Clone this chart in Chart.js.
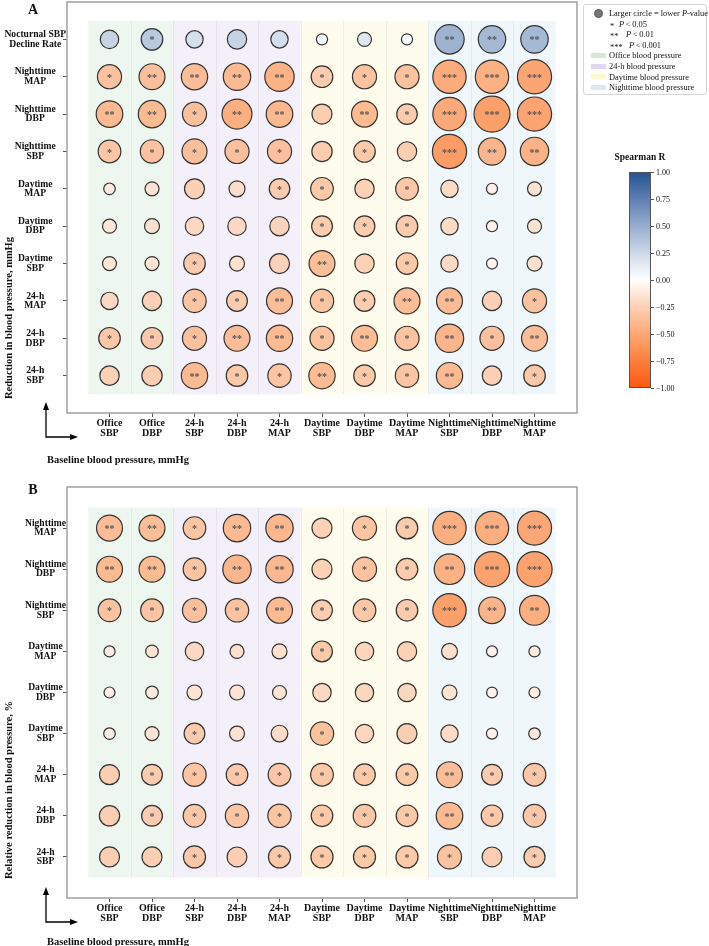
<!DOCTYPE html>
<html>
<head>
<meta charset="utf-8">
<script src="https://cdn.jsdelivr.net/npm/chart.js@4.4.1/dist/chart.umd.min.js"></script>
<style>
  body { margin: 0; background: #fff; }
  #page { position: relative; width: 709px; height: 946px; overflow: hidden; font-family: 'Liberation Serif', 'Times New Roman', serif; color: #111; }
  canvas { position: absolute; left: 0; }
  .t { position: absolute; white-space: nowrap; transform: translate(-50%, -50%); }
  .l { position: absolute; white-space: nowrap; transform: translateY(-50%); }
  .b { font-weight: bold; }
  .ytitle { position: absolute; white-space: nowrap; font-weight: bold; font-size: 10.5px; transform: translate(-50%, -50%) rotate(-90deg); }
  #legend { position: absolute; left: 583px; top: 4px; width: 124px; height: 91px; border: 1px solid #d4d4d4; border-radius: 3px; box-sizing: border-box; }
  .leg { font-size: 8.4px; }
  #cbar { position: absolute; left: 629px; top: 172px; width: 22px; height: 216px; border: 0.8px solid #555; box-sizing: border-box; }
  .cbt { font-size: 8px; }
</style>
</head>
<body>
<div id="page">
  <canvas id="chartA" width="600" height="475" style="top:0px"></canvas>
  <canvas id="chartB" width="600" height="471" style="top:475px"></canvas>
</div>
<script>
// categories
const colLabels = [['Office', 'SBP'], ['Office', 'DBP'], ['24-h', 'SBP'], ['24-h', 'DBP'], ['24-h', 'MAP'],
  ['Daytime', 'SBP'], ['Daytime', 'DBP'], ['Daytime', 'MAP'], ['Nighttime', 'SBP'], ['Nighttime', 'DBP'], ['Nighttime', 'MAP']];
const rowLabelsA = [['Nocturnal SBP', 'Decline Rate'], ['Nighttime', 'MAP'], ['Nighttime', 'DBP'], ['Nighttime', 'SBP'],
  ['Daytime', 'MAP'], ['Daytime', 'DBP'], ['Daytime', 'SBP'], ['24-h', 'MAP'], ['24-h', 'DBP'], ['24-h', 'SBP']];
const rowLabelsB = [['Nighttime', 'MAP'], ['Nighttime', 'DBP'], ['Nighttime', 'SBP'],
  ['Daytime', 'MAP'], ['Daytime', 'DBP'], ['Daytime', 'SBP'], ['24-h', 'MAP'], ['24-h', 'DBP'], ['24-h', 'SBP']];
const groupNames = ['Office blood pressure', '24-h blood pressure', 'Daytime blood pressure', 'Nighttime blood pressure'];
const groupFirst = [0, 2, 5, 8];
const groupLast = [1, 4, 7, 10];

// panel A: Spearman R and P-values (rows top to bottom)
const rhoA = [
  [0.30, 0.36, 0.22, 0.30, 0.24, 0.06, 0.18, 0.05, 0.50, 0.47, 0.47],
  [-0.36, -0.38, -0.40, -0.42, -0.47, -0.30, -0.36, -0.37, -0.52, -0.48, -0.56],
  [-0.42, -0.42, -0.37, -0.50, -0.44, -0.29, -0.42, -0.31, -0.53, -0.60, -0.57],
  [-0.34, -0.36, -0.39, -0.37, -0.37, -0.30, -0.32, -0.29, -0.62, -0.45, -0.47],
  [-0.11, -0.16, -0.27, -0.19, -0.30, -0.32, -0.27, -0.33, -0.21, -0.09, -0.15],
  [-0.14, -0.17, -0.22, -0.22, -0.25, -0.30, -0.30, -0.31, -0.21, -0.08, -0.15],
  [-0.14, -0.15, -0.31, -0.17, -0.26, -0.40, -0.26, -0.32, -0.21, -0.07, -0.17],
  [-0.22, -0.26, -0.35, -0.30, -0.40, -0.35, -0.30, -0.40, -0.41, -0.27, -0.36],
  [-0.33, -0.33, -0.37, -0.40, -0.42, -0.36, -0.40, -0.36, -0.45, -0.37, -0.40],
  [-0.27, -0.29, -0.42, -0.32, -0.35, -0.42, -0.32, -0.35, -0.42, -0.27, -0.33]
];
const pA = [
  [0.094, 0.035, 0.13, 0.069, 0.13, 0.9, 0.37, 0.9, 0.0031, 0.0057, 0.0057],
  [0.016, 0.009, 0.008, 0.0057, 0.0031, 0.035, 0.016, 0.016, 0.0009, 0.0009, 0.0007],
  [0.0073, 0.0057, 0.016, 0.0026, 0.0073, 0.057, 0.009, 0.048, 0.0009, 0.0004, 0.0007],
  [0.025, 0.02, 0.012, 0.016, 0.016, 0.052, 0.035, 0.069, 0.0007, 0.0057, 0.0042],
  [0.78, 0.37, 0.057, 0.2, 0.048, 0.025, 0.069, 0.025, 0.13, 0.9, 0.37],
  [0.37, 0.27, 0.094, 0.094, 0.069, 0.045, 0.045, 0.035, 0.13, 0.9, 0.37],
  [0.37, 0.37, 0.035, 0.27, 0.057, 0.009, 0.069, 0.035, 0.13, 0.95, 0.27],
  [0.13, 0.069, 0.02, 0.045, 0.009, 0.02, 0.045, 0.009, 0.009, 0.069, 0.016],
  [0.035, 0.035, 0.016, 0.009, 0.008, 0.016, 0.009, 0.016, 0.0042, 0.016, 0.009],
  [0.069, 0.052, 0.008, 0.035, 0.02, 0.008, 0.035, 0.02, 0.008, 0.069, 0.035]
];

// panel B
const rhoB = [
  [-0.40, -0.40, -0.35, -0.42, -0.43, -0.27, -0.35, -0.31, -0.50, -0.50, -0.55],
  [-0.42, -0.42, -0.35, -0.45, -0.43, -0.27, -0.36, -0.31, -0.48, -0.58, -0.58],
  [-0.35, -0.35, -0.37, -0.36, -0.42, -0.30, -0.33, -0.31, -0.60, -0.45, -0.50],
  [-0.10, -0.15, -0.22, -0.18, -0.18, -0.32, -0.24, -0.26, -0.18, -0.08, -0.10],
  [-0.09, -0.12, -0.15, -0.16, -0.15, -0.22, -0.23, -0.23, -0.15, -0.07, -0.09],
  [-0.10, -0.15, -0.30, -0.17, -0.20, -0.37, -0.23, -0.28, -0.20, -0.08, -0.12],
  [-0.28, -0.30, -0.35, -0.32, -0.33, -0.33, -0.32, -0.32, -0.40, -0.30, -0.33],
  [-0.28, -0.30, -0.33, -0.35, -0.35, -0.32, -0.33, -0.32, -0.42, -0.32, -0.33],
  [-0.28, -0.28, -0.32, -0.28, -0.32, -0.32, -0.32, -0.32, -0.36, -0.28, -0.30]
];
const pB = [
  [0.009, 0.009, 0.025, 0.0057, 0.0057, 0.057, 0.016, 0.035, 0.0009, 0.0009, 0.0007],
  [0.009, 0.009, 0.025, 0.0042, 0.0057, 0.057, 0.016, 0.035, 0.0021, 0.0005, 0.0005],
  [0.025, 0.025, 0.016, 0.02, 0.009, 0.045, 0.025, 0.035, 0.0009, 0.0073, 0.0026],
  [0.9, 0.57, 0.094, 0.37, 0.27, 0.045, 0.094, 0.069, 0.2, 0.95, 0.9],
  [0.95, 0.57, 0.27, 0.27, 0.37, 0.094, 0.094, 0.094, 0.27, 0.99, 0.95],
  [0.78, 0.37, 0.045, 0.27, 0.16, 0.02, 0.094, 0.057, 0.13, 0.9, 0.78],
  [0.057, 0.045, 0.02, 0.035, 0.025, 0.025, 0.035, 0.035, 0.009, 0.045, 0.025],
  [0.052, 0.045, 0.025, 0.02, 0.02, 0.035, 0.025, 0.035, 0.0073, 0.035, 0.025],
  [0.057, 0.057, 0.03, 0.06, 0.03, 0.03, 0.03, 0.03, 0.016, 0.06, 0.042]
];

// colour bar ticks
const cbTicks = [1.00, 0.75, 0.50, 0.25, 0.00, -0.25, -0.50, -0.75, -1.00];

// styles
const groupColors = [[200, 230, 201], [214, 206, 236], [252, 246, 196], [205, 230, 240]];
const CMAP = [[-1, [255, 88, 12]], [-0.75, [253, 128, 62]], [-0.5, [252, 168, 118]], [-0.25, [252, 208, 182]],
  [0, [255, 255, 255]], [0.25, [206, 217, 233]], [0.5, [152, 174, 206]], [0.75, [96, 128, 178]], [1, [38, 84, 150]]];
const SERIF = "'Liberation Serif', 'Times New Roman', serif";

function cmap(v, a) {
  v = Math.max(-1, Math.min(1, v));
  for (let i = 0; i < CMAP.length - 1; i++) {
    const [v0, c0] = CMAP[i], [v1, c1] = CMAP[i + 1];
    if (v <= v1) {
      const t = (v - v0) / (v1 - v0);
      const c = c0.map((c, k) => Math.round(c + (c1[k] - c) * t));
      return `rgba(${c[0]},${c[1]},${c[2]},${a === undefined ? 1 : a})`;
    }
  }
}
const stars = p => p < 0.001 ? '***' : p < 0.01 ? '**' : p < 0.05 ? '*' : '';
const radius = p => Math.max(4, 5.4 + 3.7 * -Math.log10(p));

function decoPlugin(nRows) {
  return {
    id: 'deco',
    beforeDatasetsDraw(chart) {
      const { ctx, scales: { x, y } } = chart;
      const y0 = y.getPixelForValue(-0.5), y1 = y.getPixelForValue(nRows - 0.5);
      ctx.save();
      groupFirst.forEach((g0, g) => {
        const x0 = x.getPixelForValue(g0 - 0.5), x1 = x.getPixelForValue(groupLast[g] + 0.5);
        const c = groupColors[g];
        ctx.fillStyle = `rgba(${c[0]},${c[1]},${c[2]},0.3)`;
        ctx.fillRect(x0, y0, x1 - x0, y1 - y0);
      });
      ctx.strokeStyle = 'rgba(0,0,0,0.05)';
      ctx.lineWidth = 1;
      for (let i = 0; i < colLabels.length - 1; i++) {
        const xp = Math.round(x.getPixelForValue(i + 0.5)) + 0.5;
        ctx.beginPath(); ctx.moveTo(xp, y0); ctx.lineTo(xp, y1); ctx.stroke();
      }
      ctx.restore();
    },
    afterDatasetsDraw(chart) {
      const { ctx } = chart;
      const meta = chart.getDatasetMeta(0);
      ctx.save();
      ctx.fillStyle = '#555';
      ctx.font = `bold 10px ${SERIF}`;
      ctx.textAlign = 'center';
      ctx.textBaseline = 'middle';
      meta.data.forEach((el, i) => {
        const s = stars(chart.data.datasets[0].data[i].p);
        if (s) ctx.fillText(s, el.x, el.y + 1.5);
      });
      ctx.restore();
    },
    afterDraw(chart) {
      const { ctx, chartArea: a } = chart;
      ctx.save();
      ctx.strokeStyle = '#a0a0a0';
      ctx.lineWidth = 1.5;
      ctx.strokeRect(a.left, a.top, a.right - a.left, a.bottom - a.top);
      // L-shaped arrow
      const cx = a.left - 21, cy = a.bottom + 24;
      ctx.strokeStyle = '#000';
      ctx.fillStyle = '#000';
      ctx.lineWidth = 1.3;
      ctx.beginPath();
      ctx.moveTo(cx, a.bottom - 4); ctx.lineTo(cx, cy); ctx.lineTo(a.left + 5, cy);
      ctx.stroke();
      ctx.beginPath();
      ctx.moveTo(cx, a.bottom - 11); ctx.lineTo(cx - 3, a.bottom - 3); ctx.lineTo(cx + 3, a.bottom - 3); ctx.closePath(); ctx.fill();
      ctx.beginPath();
      ctx.moveTo(a.left + 11, cy); ctx.lineTo(a.left + 3, cy - 3); ctx.lineTo(a.left + 3, cy + 3); ctx.closePath(); ctx.fill();
      ctx.restore();
    }
  };
}

function makePanel(id, rowLabels, rho, p, padTop, areaBottom) {
  const canvas = document.getElementById(id);
  const points = [];
  rho.forEach((row, r) => row.forEach((v, c) => points.push({ x: c, y: r, r: radius(p[r][c]), rho: v, p: p[r][c] })));
  const nRows = rowLabels.length;
  const xAxisH = canvas.height - areaBottom;
  return new Chart(canvas.getContext('2d'), {
    type: 'bubble',
    data: {
      datasets: [{
        data: points,
        backgroundColor: c => cmap(c.raw.rho, 0.92),
        borderColor: '#333',
        borderWidth: 1.2
      }]
    },
    options: {
      responsive: false,
      animation: false,
      events: [],
      layout: { autoPadding: false, padding: { left: 0, top: padTop, right: canvas.width - 577, bottom: 0 } },
      plugins: { legend: { display: false }, tooltip: { enabled: false } },
      scales: {
        x: {
          type: 'linear', min: -1, max: 11,
          afterBuildTicks: ax => { ax.ticks = colLabels.map((_, i) => ({ value: i })); },
          afterFit: s => { s.height = xAxisH; s.paddingLeft = 0; s.paddingRight = 0; },
          ticks: {
            callback: v => colLabels[v], autoSkip: false, maxRotation: 0, padding: 1, color: '#111',
            font: { family: SERIF, size: 10, weight: 'bold', lineHeight: 1.0 }
          },
          grid: { drawOnChartArea: false, tickLength: 4, color: '#555' },
          border: { display: false }
        },
        y: {
          type: 'linear', reverse: true, min: -1, max: nRows,
          afterBuildTicks: ax => { ax.ticks = rowLabels.map((_, i) => ({ value: i })); },
          afterFit: s => { s.width = 67; s.paddingTop = 0; s.paddingBottom = 0; },
          ticks: {
            callback: v => rowLabels[v], crossAlign: 'center', padding: -3, color: '#111',
            font: { family: SERIF, size: 9.6, weight: 'bold', lineHeight: 1.0 }
          },
          grid: { drawOnChartArea: false, tickLength: 4, color: '#555' },
          border: { display: false }
        }
      }
    },
    plugins: [decoPlugin(nRows)]
  });
}

makePanel('chartA', rowLabelsA, rhoA, pA, 2, 413);
makePanel('chartB', rowLabelsB, rhoB, pB, 12, 423);

// page texts, legend and colour bar
const page = document.getElementById('page');
function addText(cls, txt, left, top, extra) {
  const d = document.createElement('div');
  d.className = cls;
  d.innerHTML = txt;
  d.style.left = left + 'px';
  d.style.top = top + 'px';
  if (extra) Object.assign(d.style, extra);
  page.appendChild(d);
  return d;
}
addText('t b', 'A', 33, 10, { fontSize: '14px' });
addText('t b', 'B', 33, 490, { fontSize: '14px' });
addText('ytitle', 'Reduction in blood pressure, mmHg', 8, 318);
addText('ytitle', 'Relative reduction in blood pressure, %', 8, 790);
addText('l b', 'Baseline blood pressure, mmHg', 47, 459, { fontSize: '10.5px' });
addText('l b', 'Baseline blood pressure, mmHg', 47, 941, { fontSize: '10.5px' });

const legend = document.createElement('div');
legend.id = 'legend';
page.appendChild(legend);
const legY = i => 13 + i * 10.6;
addText('', '', 594, legY(0) - 4.5, { position: 'absolute', width: '9px', height: '9px', borderRadius: '50%', background: '#777', border: '0.8px solid #555', boxSizing: 'border-box' });
addText('l leg', 'Larger circle = lower <i>P</i>-value', 609, legY(0));
[['*', 619, '0.05'], ['**', 626, '0.01'], ['***', 629, '0.001']].forEach(([s, px, v], i) => {
  addText('l leg', s, 610, legY(i + 1) + 2);
  addText('l leg', `<i>P</i>&thinsp;&lt;&thinsp;${v}`, px, legY(i + 1));
});
groupNames.forEach((g, i) => {
  const c = groupColors[i];
  addText('', '', 591, legY(i + 4) - 2.5, { position: 'absolute', width: '15px', height: '5px', background: `rgba(${c[0]},${c[1]},${c[2]},0.8)` });
  addText('l leg', g, 609, legY(i + 4));
});

addText('t b', 'Spearman R', 640, 157, { fontSize: '9.5px' });
const bar = document.createElement('div');
bar.id = 'cbar';
bar.style.background = 'linear-gradient(to bottom, ' + CMAP.slice().reverse().map(([v]) => cmap(v) + ' ' + ((1 - v) / 2 * 100) + '%').join(', ') + ')';
page.appendChild(bar);
cbTicks.forEach(v => {
  const yy = 172 + (1 - v) / 2 * 216;
  addText('', '', 651, yy - 0.4, { position: 'absolute', width: '3px', height: '0.8px', background: '#555' });
  addText('l cbt', v.toFixed(2).replace('-', '\u2212'), 656, yy);
});
</script>
</body>
</html>
